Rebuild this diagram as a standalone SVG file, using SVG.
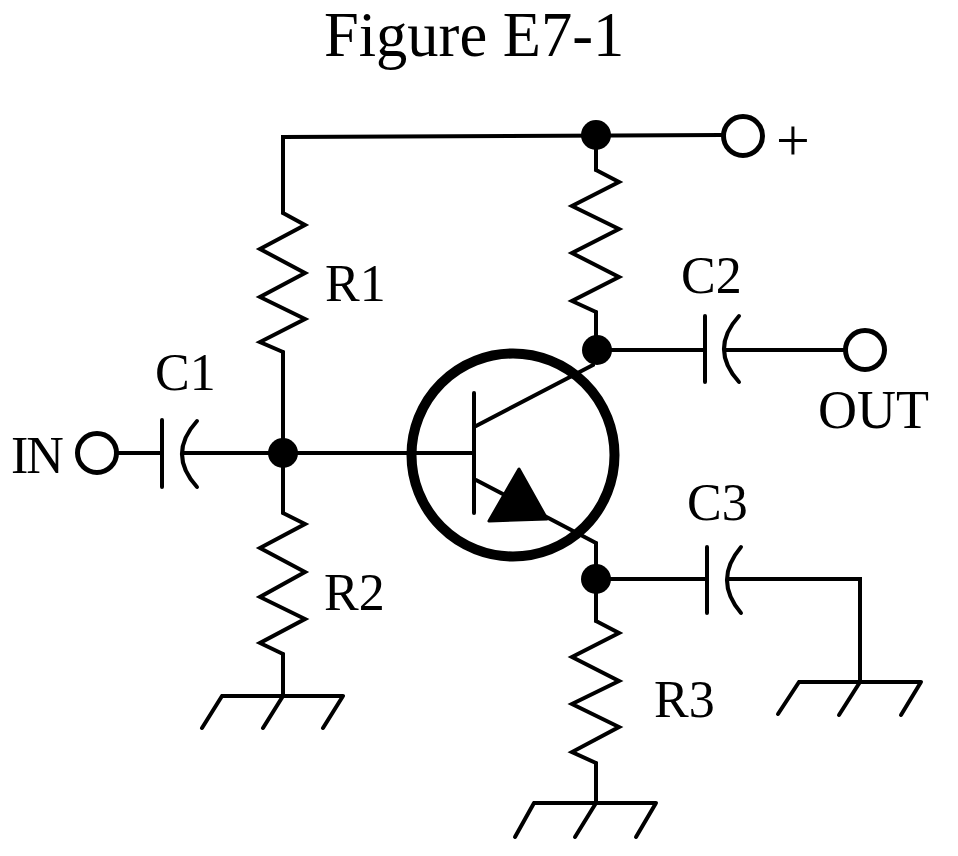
<svg xmlns="http://www.w3.org/2000/svg" width="958" height="856" viewBox="0 0 958 856">
<style>
.w{fill:none;stroke:#000;stroke-width:4;stroke-linejoin:miter;stroke-linecap:round}
.d{fill:#000}
.o{fill:#fff;stroke:#000;stroke-width:5}
text{font-family:"Liberation Serif",serif;font-size:52px;fill:#000}
</style>
<rect width="958" height="856" fill="#fff"/>
<text x="324" y="56" style="font-size:62.5px">Figure E7-1</text>
<g id="connectors" class="w">
<path d="M722 135L283 137V213"/>
<path d="M283 352V453"/>
<path d="M118 453H162M184 453H474"/>
<path d="M283 453V513M283 654V696"/>
<path d="M596 135V170M596 312V350"/>
<path d="M597 350H705M726 350H844"/>
<path d="M596 579V543M596 579V621M596 763V803"/>
<path d="M596 579H707M729 579H860V681"/>
<path d="M476 426L593 365"/>
<path d="M476 480L596 543"/>
</g>
<g id="R1"><path class="w" d="M283 213L305 225L260 249L305 273L260 297L305 319L260 342L283 352"/><text x="325" y="301">R1</text></g>
<g id="R2"><path class="w" d="M283 513L305 524L260 548L305 572L260 597L305 619L260 643L283 654"/><text x="324" y="610">R2</text></g>
<g id="R3"><path class="w" d="M596 621L619 633L572 657L619 681L572 704L619 727L572 752L596 763"/><text x="654" y="717">R3</text></g>
<g id="R4"><path class="w" d="M596 170L619 182L572 206L619 229L572 253L619 277L572 301L596 312"/></g>
<g id="C1"><path class="w" d="M162 420V487M197 421Q167 454 197 487"/><text x="155" y="390">C1</text></g>
<g id="C2"><path class="w" d="M705 316V382M739 316Q709 349 739 382"/><text x="681" y="293">C2</text></g>
<g id="C3"><path class="w" d="M707 547V613M741 547Q713 580 741 613"/><text x="687" y="520">C3</text></g>
<g id="Q1"><path class="w" d="M474 393V513"/><circle cx="513" cy="455" r="101.5" fill="none" stroke="#000" stroke-width="10"/><polygon class="d" stroke="#000" stroke-width="3" stroke-linejoin="round" points="519,469 489,521 547,519"/></g>
<g id="J1"><circle class="d" cx="283" cy="453" r="15"/></g>
<g id="J2"><circle class="d" cx="596" cy="135" r="15"/></g>
<g id="J3"><circle class="d" cx="597" cy="350" r="15"/></g>
<g id="J4"><circle class="d" cx="596" cy="579" r="15"/></g>
<g id="IN"><circle class="o" cx="97" cy="453" r="19.5"/><text x="11" y="473" letter-spacing="-2">IN</text></g>
<g id="PLUS"><circle class="o" cx="743" cy="136" r="19.5"/><text x="776" y="160" style="font-size:60px">+</text></g>
<g id="OUT"><circle class="o" cx="865" cy="350" r="19.5"/><text x="818" y="428" style="font-size:54px">OUT</text></g>
<g id="G1"><path class="w" d="M222 696H343M222 696L202 728M283 696L263 728M343 696L323 728"/></g>
<g id="G2"><path class="w" d="M534 803H656M534 803L515 837M596 803L575 837M656 803L636 837"/></g>
<g id="G3"><path class="w" d="M799 682H921M799 682L778 714M860 682L839 715M921 682L901 715"/></g>
</svg>
